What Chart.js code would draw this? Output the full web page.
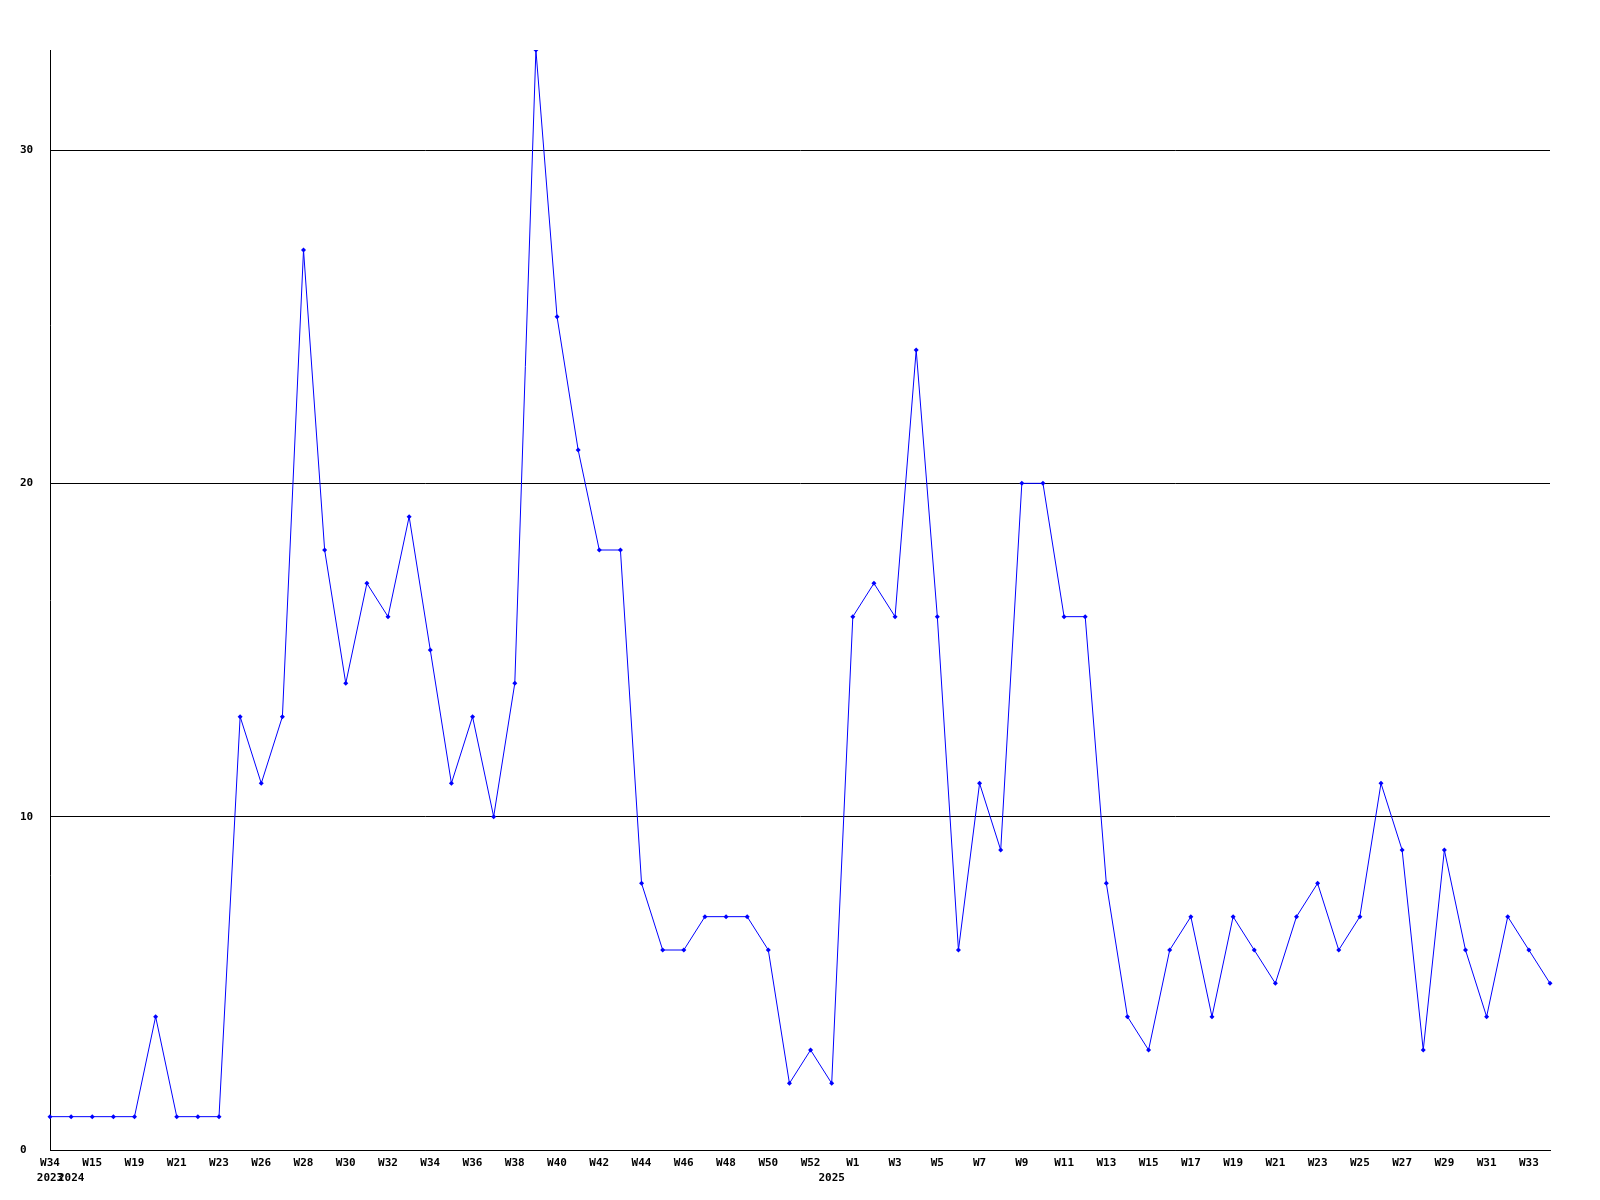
<!DOCTYPE html>
<html>
<head>
<meta charset="utf-8">
<script src="https://cdn.jsdelivr.net/npm/chart.js@4/dist/chart.umd.min.js"></script>
<style>
html,body{margin:0;padding:0;background:#fff;}
#wrap{width:1600px;height:1200px;position:relative;}
</style>
</head>
<body>
<div id="wrap"><canvas id="c"></canvas></div>
<script>
const weeks = ["W34","W14","W15","W17","W19","W20","W21","W22","W23","W24","W26","W27","W28","W29","W30","W31","W32","W33","W34","W35","W36","W37","W38","W39","W40","W41","W42","W43","W44","W45","W46","W47","W48","W49","W50","W51","W52","W0","W1","W2","W3","W4","W5","W6","W7","W8","W9","W10","W11","W12","W13","W14","W15","W16","W17","W18","W19","W20","W21","W22","W23","W24","W25","W26","W27","W28","W29","W30","W31","W32","W33","W34"];
const yearMarks = {0:"2023", 1:"2024", 37:"2025"};
const counts = [1,1,1,1,1,4,1,1,1,13,11,13,27,18,14,17,16,19,15,11,13,10,14,33,25,21,18,18,8,6,6,7,7,7,6,2,3,2,16,17,16,24,16,6,11,9,20,20,16,16,8,4,3,6,7,4,7,6,5,7,8,6,7,11,9,3,9,6,4,7,6,5];
const yTicks = [0,10,20,30];

const font = {family:"'DejaVu Sans Mono', 'Liberation Mono', monospace", size:11, weight:"bold"};

new Chart(document.getElementById('c'), {
  type: 'line',
  data: {
    labels: weeks,
    datasets: [{
      data: counts,
      borderColor: '#0000ff',
      backgroundColor: '#0000ff',
      borderWidth: 1,
      pointStyle: 'rectRot',
      pointRadius: 2.5,
      pointBorderWidth: 0,
      tension: 0,
      fill: false
    }]
  },
  options: {
    responsive: true,
    maintainAspectRatio: false,
    animation: false,
    layout: {padding: {top: 50, right: 50, left: 20, bottom: 0}},
    plugins: {legend: {display: false}, tooltip: {enabled: false}},
    scales: {
      x: {
        offset: false,
        grid: {display: false},
        border: {display: true, color: '#000', width: 1},
        afterFit: s => { s.height = 50; },
        ticks: {
          autoSkip: false,
          maxRotation: 0,
          minRotation: 0,
          padding: -3,
          color: '#000',
          font: Object.assign({}, font, {lineHeight: 1.4}),
          callback: (v, i) => {
            const w = (i % 2 === 0) ? weeks[i] : "";
            const y = yearMarks[i];
            return y ? [w, y] : w;
          }
        }
      },
      y: {
        min: 0,
        max: 33,
        afterBuildTicks: s => { s.ticks = yTicks.map(v => ({value: v})); },
        afterFit: s => { s.width = 30; },
        grid: {color: '#000', lineWidth: 1, drawTicks: false},
        border: {display: true, color: '#000', width: 1},
        ticks: {
          color: '#000',
          font: font,
          crossAlign: 'far',
          padding: 0,
          callback: v => String(v)
        }
      }
    }
  }
});
</script>
</body>
</html>
